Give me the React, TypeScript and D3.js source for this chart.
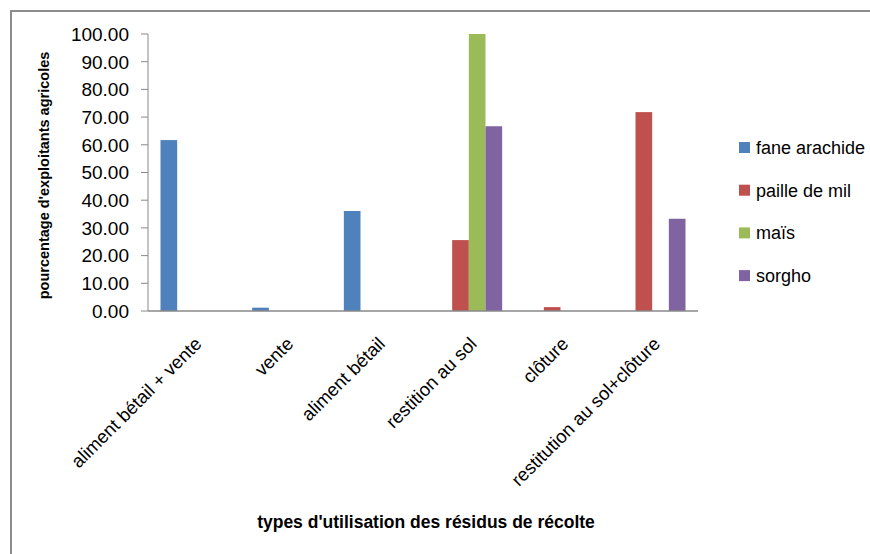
import React, { useRef, useEffect } from "react";
import * as d3 from "d3";

const categories = [
  "aliment bétail + vente",
  "vente",
  "aliment bétail",
  "restition au sol",
  "clôture",
  "restitution au sol+clôture",
];

const seriesNames = ["fane arachide", "paille de mil", "maïs", "sorgho"];
const seriesColors = ["#4F81BD", "#C0504D", "#9BBB59", "#8064A2"];

const faneArachide = [61.7, 1.2, 36.1, 0, 0, 0];
const pailleDeMil = [0, 0, 0, 25.6, 1.4, 71.8];
const mais = [0, 0, 0, 100, 0, 0];
const sorgho = [0, 0, 0, 66.7, 0, 33.3];

const yTicks = [0, 10, 20, 30, 40, 50, 60, 70, 80, 90, 100];

const W = 870;
const H = 554;
const FONT = "'Liberation Sans', Arial, sans-serif";

export default function App() {
  const svgRef = useRef<SVGSVGElement>(null);

  useEffect(() => {
    if (!svgRef.current) return;
    const svg = d3.select(svgRef.current);
    svg.selectAll("*").remove();

    const left = 148;
    const right = 698;
    const top = 34;
    const bottom = 311;

    const series = [faneArachide, pailleDeMil, mais, sorgho];

    const x0 = d3
      .scaleBand<string>()
      .domain(categories)
      .range([left, right])
      .paddingInner(0)
      .paddingOuter(0);

    // excel-like gap width 150%
    const groupW = x0.bandwidth();
    const barW = groupW / 5.5;
    const gap = barW * 0.75;

    const y = d3.scaleLinear().domain([0, 100]).range([bottom, top]);

    // outer border
    svg
      .append("path")
      .attr("d", `M11,${H + 5} L11,11 L${W + 5},11`)
      .attr("fill", "none")
      .attr("stroke", "#8c8c8c")
      .attr("stroke-width", 2);

    // bars
    series.forEach((vals, si) => {
      svg
        .append("g")
        .selectAll("rect")
        .data(vals.map((v, i) => ({ v, c: categories[i] })))
        .enter()
        .filter((d) => d.v > 0)
        .append("rect")
        .attr("x", (d) => (x0(d.c) as number) + gap + si * barW)
        .attr("width", barW)
        .attr("y", (d) => y(d.v))
        .attr("height", (d) => y(0) - y(d.v))
        .attr("fill", seriesColors[si]);
    });

    // y axis
    const yAxis = svg.append("g");
    yAxis
      .append("line")
      .attr("x1", left)
      .attr("x2", left)
      .attr("y1", top)
      .attr("y2", bottom)
      .attr("stroke", "#888")
      .attr("stroke-width", 1);
    yAxis
      .selectAll(".tick")
      .data(yTicks)
      .enter()
      .append("line")
      .attr("x1", left - 7)
      .attr("x2", left)
      .attr("y1", (d) => y(d))
      .attr("y2", (d) => y(d))
      .attr("stroke", "#888");
    yAxis
      .selectAll(".lbl")
      .data(yTicks)
      .enter()
      .append("text")
      .attr("x", left - 19)
      .attr("y", (d) => y(d))
      .attr("dy", "0.36em")
      .attr("text-anchor", "end")
      .attr("font-family", FONT)
      .attr("font-size", 19)
      .attr("fill", "#000")
      .text((d) => d.toFixed(2));

    // x axis
    svg
      .append("line")
      .attr("x1", left)
      .attr("x2", right)
      .attr("y1", bottom)
      .attr("y2", bottom)
      .attr("stroke", "#888")
      .attr("stroke-width", 1.5);

    svg
      .append("g")
      .selectAll("text")
      .data(categories)
      .enter()
      .append("text")
      .attr(
        "transform",
        (d) =>
          `translate(${(x0(d) as number) + groupW / 2 + 9},${bottom + 34}) rotate(-45)`
      )
      .attr("text-anchor", "end")
      .attr("font-family", FONT)
      .attr("font-size", 18.5)
      .attr("fill", "#000")
      .text((d) => d);

    // axis titles
    svg
      .append("text")
      .attr("transform", `translate(49,${(top + bottom) / 2 + 3}) rotate(-90)`)
      .attr("text-anchor", "middle")
      .attr("font-family", FONT)
      .attr("font-weight", "bold")
      .attr("font-size", 14.5)
      .attr("fill", "#000")
      .text("pourcentage d'exploitants agricoles");

    svg
      .append("text")
      .attr("x", 426)
      .attr("y", 528)
      .attr("text-anchor", "middle")
      .attr("font-family", FONT)
      .attr("font-weight", "bold")
      .attr("font-size", 17.5)
      .attr("fill", "#000")
      .text("types d'utilisation des résidus de récolte");

    // legend
    const legend = svg
      .append("g")
      .selectAll("g")
      .data(seriesNames)
      .enter()
      .append("g")
      .attr("transform", (d, i) => `translate(739,${147.5 + i * 42.7})`);
    legend
      .append("rect")
      .attr("x", 0)
      .attr("y", -5.5)
      .attr("width", 11)
      .attr("height", 11)
      .attr("fill", (d, i) => seriesColors[i]);
    legend
      .append("text")
      .attr("x", 17)
      .attr("y", 0)
      .attr("dy", "0.36em")
      .attr("font-family", FONT)
      .attr("font-size", 18)
      .attr("fill", "#000")
      .text((d) => d);
  }, []);

  return (
    <div style={{ position: "absolute", left: 0, top: 0, background: "#fff" }}>
      <svg ref={svgRef} width={W} height={H} viewBox={`0 0 ${W} ${H}`} />
    </div>
  );
}
